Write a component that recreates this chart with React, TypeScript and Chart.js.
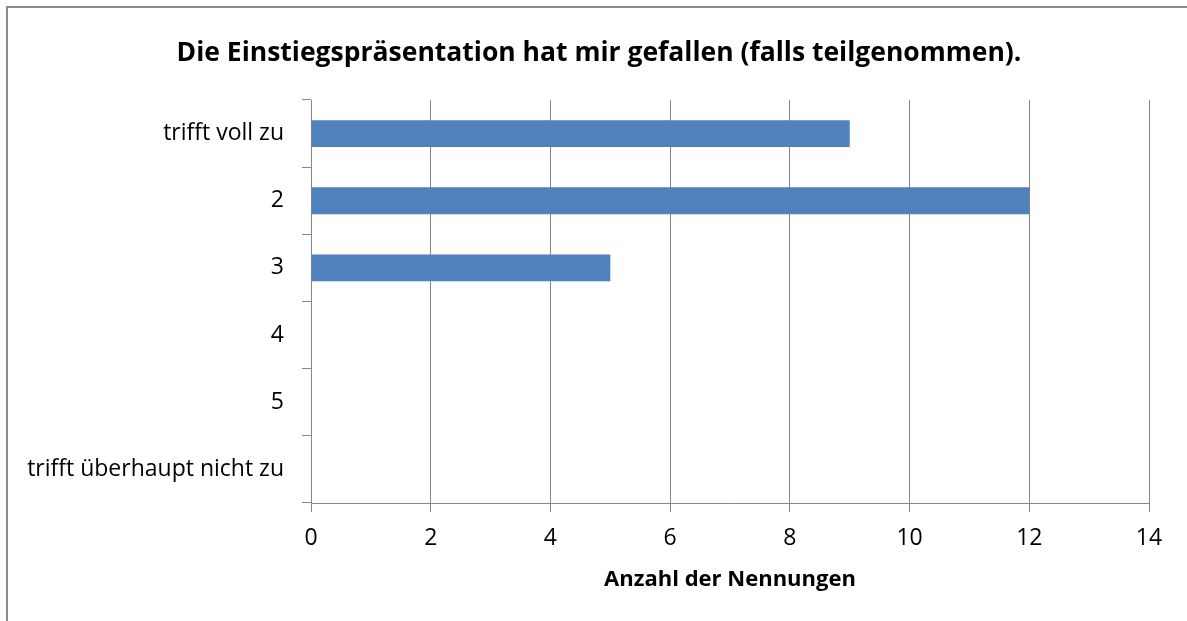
import React, { useEffect, useRef } from "react";
import { Chart, registerables } from "chart.js";

Chart.register(...registerables);

const categories = ["trifft voll zu", "2", "3", "4", "5", "trifft überhaupt nicht zu"];
const counts = [9, 12, 5, 0, 0, 0];
const xMin = 0;
const xMax = 14;
const xStep = 2;
const titleText = "Die Einstiegspräsentation hat mir gefallen (falls teilgenommen).";
const xAxisTitle = "Anzahl der Nennungen";

const FONT = "'Open Sans', Lato, sans-serif";
const GRID = "#868686";

const framePlugin = {
  id: "frame",
  afterLayout(chart: any) {
    // shift the title block so its centre matches the original layout
    if (chart.titleBlock) chart.titleBlock.left = 49;
  },
  beforeDraw(chart: any) {
    const ctx = chart.ctx;
    ctx.save();
    ctx.fillStyle = "#ffffff";
    ctx.fillRect(0, 0, chart.width, chart.height);
    ctx.strokeStyle = "#8c8c8c";
    ctx.lineWidth = 2;
    ctx.strokeRect(7, 7, chart.width + 50, chart.height + 50);
    ctx.restore();
  },
};

export default function App() {
  const ref = useRef<HTMLCanvasElement | null>(null);
  useEffect(() => {
    if (!ref.current) return;
    const chart = new Chart(ref.current, {
      type: "bar",
      data: {
        labels: categories,
        datasets: [
          {
            data: counts,
            backgroundColor: "#4F81BD",
            borderWidth: 0,
            categoryPercentage: 1,
            barPercentage: 0.4,
          },
        ],
      },
      options: {
        indexAxis: "y",
        animation: false,
        responsive: false,
        devicePixelRatio: 1,
        layout: { padding: { left: 0, right: 38, top: 0, bottom: 0 } },
        plugins: {
          legend: { display: false },
          tooltip: { enabled: false },
          title: {
            display: true,
            text: titleText,
            color: "#000000",
            font: { family: FONT, size: 26.5, weight: "bold", lineHeight: 1.2 },
            padding: { top: 37.1, bottom: 31.1 },
          },
        },
        scales: {
          x: {
            type: "linear",
            min: xMin,
            max: xMax,
            ticks: {
              stepSize: xStep,
              color: "#000000",
              padding: 12.2,
              font: { family: FONT, size: 23, lineHeight: 1.2 },
            },
            grid: {
              color: GRID,
              lineWidth: 1,
              tickLength: 9,
              drawTicks: true,
            },
            border: { display: true, color: GRID, width: 1 },
            title: {
              display: true,
              text: xAxisTitle,
              color: "#000000",
              font: { family: FONT, size: 22, weight: "bold", lineHeight: 1.2 },
              padding: { top: 0, bottom: 27.8 },
            },
            afterFit(scale: any) {
              scale.height = 118;
            },
          },
          y: {
            type: "category",
            ticks: {
              color: "#000000",
              padding: 18,
              font: { family: FONT, size: 23, lineHeight: 1.2 },
            },
            grid: {
              offset: true,
              drawOnChartArea: false,
              drawTicks: true,
              tickLength: 9,
              color: GRID,
            },
            border: { display: true, color: GRID, width: 1 },
            afterFit(scale: any) {
              scale.width = 311;
            },
          },
        },
      },
      plugins: [framePlugin],
    });
    return () => chart.destroy();
  }, []);
  return (
    <div style={{ position: "fixed", left: 0, top: 0, width: 1187, height: 621 }}>
      <canvas ref={ref} width={1187} height={621} style={{ width: 1187, height: 621, display: "block" }} />
    </div>
  );
}
